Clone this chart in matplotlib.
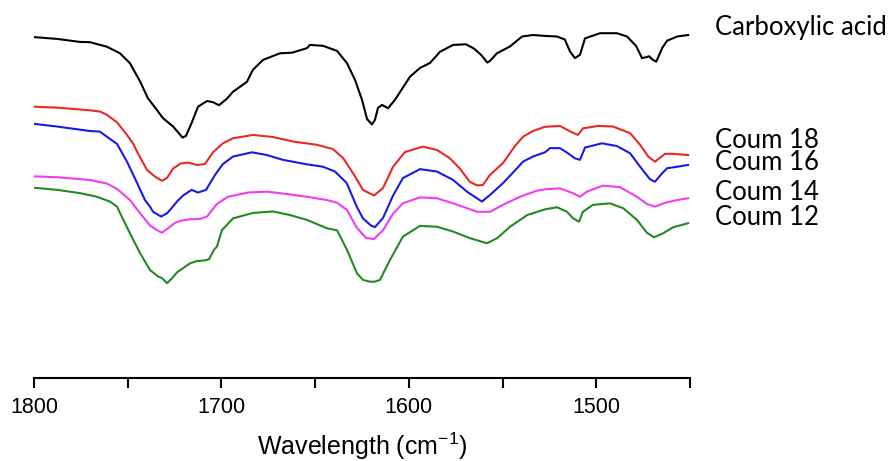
import matplotlib
matplotlib.use("Agg")
import matplotlib.pyplot as plt
from matplotlib.ticker import MultipleLocator

plt.rcParams['font.family'] = ['Liberation Sans', 'DejaVu Sans']
plt.rcParams['mathtext.default'] = 'regular'

# IR spectra (wavenumber in cm-1, transmittance in arbitrary units, offset)
wn_acid = [1800, 1787.7, 1775.5, 1770.1, 1761.1, 1754.1, 1748.8, 1743.4, 1739.2, 1734.4, 1731.2,
           1725.8, 1720.7, 1718.9, 1715.9, 1712.5, 1707.7, 1704.5, 1701.3, 1697.2, 1693.8, 1686.4,
           1683.2, 1677.8, 1668.8, 1662.4, 1654.4, 1652.8, 1645.8, 1638.3, 1633.0, 1628.7, 1625.0,
           1622.3, 1619.7, 1618.1, 1616.5, 1614.3, 1611.1, 1607.4, 1599.4, 1594.1, 1588.7, 1583.4,
           1576.4, 1569.5, 1565.3, 1561.5, 1558.1, 1556.7, 1553.0, 1546.0, 1539.6, 1533.8, 1527.4,
           1521.0, 1516.8, 1514.0, 1511.4, 1508.7, 1506.0, 1498.0, 1489.0, 1483.6, 1478.8, 1475.6,
           1473.4, 1471.8, 1470.2, 1468.0, 1464.8, 1462.2, 1456.8, 1451]
t_acid = [113.6, 113.0, 112.0, 111.9, 110.4, 108.2, 104.9, 98.8, 93.2, 89.3, 86.6,
          83.8, 80.1, 80.7, 85.0, 90.4, 92.3, 91.9, 90.9, 93.0, 95.4, 98.7,
          102.7, 106.0, 108.2, 108.4, 109.9, 111.0, 110.7, 109.0, 104.9, 99.3, 92.7,
          86.3, 84.5, 86.0, 90.0, 91.0, 89.9, 92.7, 100.4, 103.3, 105.0, 108.7,
          111.0, 111.2, 109.8, 107.7, 105.1, 105.7, 108.2, 110.5, 113.8, 114.3, 114.0,
          113.8, 112.8, 108.8, 106.6, 107.7, 113.2, 114.9, 114.9, 113.8, 110.7, 106.6,
          106.9, 107.2, 106.2, 105.4, 110.0, 112.4, 113.8, 114.3]

wn_c18 = [1800, 1787.7, 1770.1, 1764.8, 1761.1, 1755.7, 1750.4, 1747.2, 1745.0, 1739.7, 1735.4,
          1731.7, 1729.0, 1725.8, 1721.6, 1717.8, 1713.0, 1708.8, 1704.5, 1699.2, 1693.8, 1683.2,
          1672.5, 1661.8, 1649.0, 1640.5, 1635.1, 1629.8, 1624.5, 1618.6, 1613.8, 1608.5, 1602.1,
          1592.5, 1585.0, 1578.1, 1572.8, 1567.5, 1563.7, 1560.5, 1556.7, 1549.8, 1543.4, 1539.1,
          1533.8, 1527.4, 1519.4, 1514.0, 1509.8, 1507.1, 1499.1, 1491.1, 1482.0, 1476.6, 1472.3,
          1468.7, 1463.3, 1459.1, 1451]
t_c18 = [90.4, 90.1, 89.2, 88.8, 87.7, 85.2, 81.0, 78.2, 75.4, 69.3, 67.1,
         65.7, 66.7, 69.8, 71.5, 71.8, 71.0, 71.3, 75.2, 78.2, 79.9, 81.0,
         80.3, 78.8, 77.7, 76.3, 73.3, 68.3, 62.7, 60.8, 63.3, 70.3, 75.3,
         77.1, 76.0, 73.2, 69.8, 65.4, 64.2, 64.3, 67.7, 71.6, 77.3, 80.4,
         82.3, 83.7, 84.0, 82.2, 81.0, 83.2, 84.0, 83.8, 81.6, 77.7, 73.8,
         72.1, 74.7, 74.7, 74.3]

wn_c16 = [1800, 1787.7, 1770.1, 1764.8, 1761.1, 1755.7, 1750.4, 1745.0, 1740.8, 1738.1, 1736.5,
          1732.2, 1729.0, 1727.4, 1723.7, 1720.5, 1715.9, 1712.5, 1708.2, 1703.4, 1699.2, 1693.8,
          1683.7, 1675.7, 1667.2, 1654.4, 1645.8, 1639.4, 1633.2, 1627.8, 1624.5, 1620.2, 1618.1,
          1613.8, 1608.5, 1603.2, 1594.1, 1585.0, 1576.4, 1569.0, 1563.7, 1561.0, 1556.7, 1549.8,
          1542.3, 1539.1, 1533.8, 1527.4, 1524.7, 1519.4, 1515.1, 1511.4, 1508.7, 1506.0, 1497.0,
          1489.0, 1482.0, 1476.6, 1471.3, 1468.7, 1464.9, 1462.2, 1456.8, 1451]
t_c16 = [84.7, 83.8, 82.3, 82.1, 80.4, 78.0, 72.1, 65.0, 59.3, 57.1, 55.4,
         53.8, 54.9, 56.0, 58.8, 60.8, 62.7, 61.8, 62.7, 67.7, 71.3, 73.8,
         75.2, 74.3, 72.7, 71.2, 70.4, 68.8, 65.0, 57.1, 53.2, 50.8, 50.3,
         53.3, 60.7, 66.6, 69.6, 68.8, 66.0, 62.1, 59.9, 58.8, 61.0, 64.9,
         69.9, 72.1, 73.8, 75.2, 76.6, 76.6, 74.9, 73.2, 72.7, 76.8, 78.2,
         77.3, 74.9, 70.4, 66.2, 65.4, 68.2, 69.9, 70.4, 71.0]

wn_c14 = [1800, 1787.7, 1770.1, 1761.1, 1755.7, 1748.8, 1743.4, 1738.1, 1734.4, 1731.7, 1728.5,
          1724.8, 1721.0, 1716.8, 1711.4, 1707.7, 1702.4, 1696.5, 1685.8, 1675.7, 1665.0, 1654.4,
          1643.7, 1638.3, 1633.0, 1627.7, 1622.9, 1618.6, 1613.8, 1608.5, 1603.2, 1594.1, 1585.0,
          1576.4, 1569.0, 1563.7, 1556.7, 1549.8, 1540.7, 1531.7, 1527.4, 1519.4, 1512.5, 1508.7,
          1505.0, 1496.5, 1487.4, 1478.3, 1473.0, 1468.7, 1463.3, 1456.9, 1451]
t_c14 = [67.2, 66.9, 66.0, 64.8, 63.0, 59.3, 54.9, 50.8, 49.3, 48.4, 49.9,
         51.7, 52.5, 52.9, 53.0, 53.8, 58.0, 60.4, 61.8, 62.1, 61.3, 60.4,
         59.3, 58.4, 56.0, 50.0, 46.7, 46.3, 49.2, 54.7, 58.2, 60.2, 59.9,
         58.2, 56.6, 55.4, 55.4, 57.7, 60.4, 62.4, 62.9, 63.2, 61.6, 60.4,
         62.1, 64.1, 63.6, 60.4, 58.0, 57.1, 58.4, 59.3, 59.9]

wn_c12 = [1800, 1787.7, 1775.5, 1766.4, 1759.5, 1755.7, 1754.1, 1748.8, 1743.4, 1738.1, 1733.8,
          1731.7, 1729.0, 1726.4, 1723.7, 1720.5, 1716.8, 1713.0, 1708.8, 1706.6, 1704.0, 1702.4,
          1699.7, 1693.8, 1683.2, 1672.5, 1663.4, 1654.4, 1643.7, 1638.3, 1633.0, 1627.7, 1624.5,
          1620.8, 1618.1, 1615.4, 1610.1, 1603.2, 1594.1, 1585.0, 1576.4, 1567.4, 1558.3, 1552.9,
          1546.0, 1536.9, 1527.4, 1521.0, 1515.6, 1512.4, 1509.2, 1507.1, 1501.8, 1492.7, 1485.7,
          1478.3, 1473.0, 1469.2, 1464.4, 1459.1, 1451]
t_c12 = [63.4, 62.7, 61.6, 60.4, 58.8, 57.1, 55.0, 48.2, 41.6, 36.0, 33.8,
         33.3, 31.6, 33.2, 35.2, 36.6, 38.2, 39.0, 39.2, 39.6, 42.7, 43.8,
         49.3, 53.2, 55.0, 55.5, 54.3, 52.7, 49.9, 49.2, 42.7, 34.9, 32.7,
         32.1, 32.1, 32.7, 39.3, 47.1, 50.7, 50.4, 48.8, 46.6, 44.9, 46.6,
         50.4, 54.3, 56.2, 56.9, 55.4, 53.2, 52.1, 55.4, 57.7, 58.2, 56.6,
         52.7, 48.4, 46.9, 48.2, 50.2, 51.6]

names = ['Carboxylic acid', 'Coum 18', 'Coum 16', 'Coum 14', 'Coum 12']
colors = ['black', '#e82a22', '#1a1ae6', '#f23cf2', '#218a21']
label_y = [27, 140, 163, 192, 217]  # pixel rows of the side labels

fig = plt.figure(figsize=(8.93, 4.61), dpi=100)
ax = fig.add_axes([34 / 893, 83 / 461, 656 / 893, 358 / 461])

series = [(wn_acid, t_acid), (wn_c18, t_c18), (wn_c16, t_c16), (wn_c14, t_c14), (wn_c12, t_c12)]
for (x, y), c in zip(series, colors):
    ax.plot(x, y, color=c, lw=1.5)

ax.set_xlim(1800, 1450)
ax.set_ylim(0, 119.3)
for s in ['top', 'right', 'left']:
    ax.spines[s].set_visible(False)
ax.spines['bottom'].set_linewidth(1.5)
ax.set_yticks([])
ax.xaxis.set_major_locator(MultipleLocator(100))
ax.xaxis.set_minor_locator(MultipleLocator(50))
ax.tick_params(axis='x', which='both', direction='out', length=7, width=1.5)
ax.tick_params(axis='x', which='major', labelsize=15.5, pad=7)
ax.set_xlabel('Wavelength (cm$^{-1}$)', fontsize=18, labelpad=9)

for name, yy in zip(names, label_y):
    fig.text(715 / 893, 1 - yy / 461, name, fontsize=18.5, family=['Lato', 'DejaVu Sans'],
             va='center', ha='left')

fig.savefig('out.png', dpi=100)
